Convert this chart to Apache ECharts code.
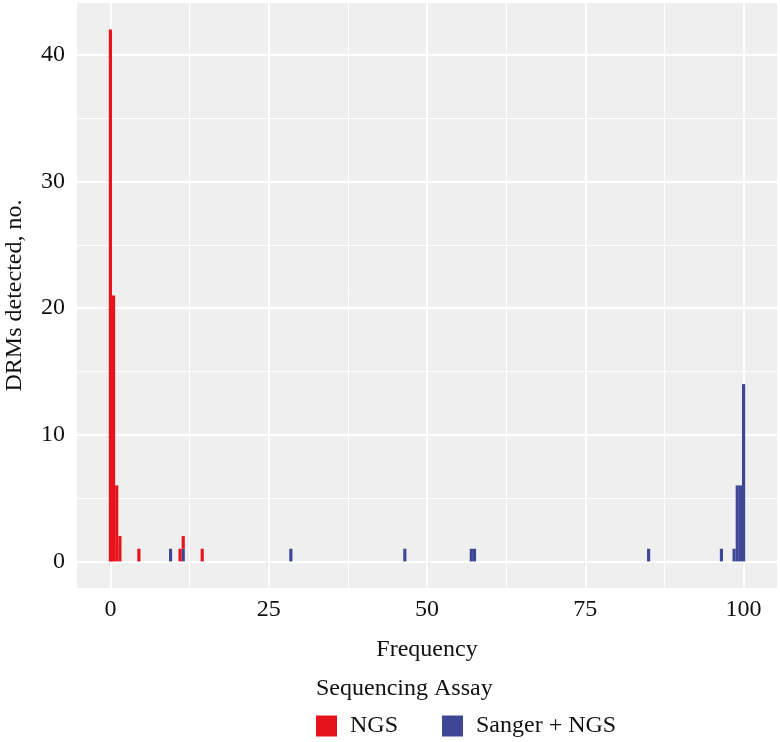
<!DOCTYPE html>
<html>
<head>
<meta charset="utf-8">
<script src="https://cdn.jsdelivr.net/npm/echarts@6/dist/echarts.min.js"></script>
<style>
html,body{margin:0;padding:0;background:#fff;}
#chart{width:780px;height:742px;}
</style>
</head>
<body>
<div id="chart"></div>
<script>
// ---- data (histogram, bin width 0.5) ----
const ngsBins = [0, 0.5, 1, 1.5, 4.5, 11, 11.5, 14.5];
const ngsCounts = [42, 21, 6, 2, 1, 1, 1, 1];
const sangerBins = [9.5, 11.5, 28.5, 46.5, 57, 57.5, 85, 96.5, 98.5, 99, 99.5, 100];
const sangerCounts = [1, 1, 1, 1, 1, 1, 1, 1, 1, 6, 6, 14];
const xTicks = [0, 25, 50, 75, 100];
const xMinor = [12.5, 37.5, 62.5, 87.5];
const yTicks = [0, 10, 20, 30, 40];
const yMinor = [5, 15, 25, 35];
const seriesNames = ['NGS', 'Sanger + NGS'];
const binWidth = 0.5;

const FONT = 'Liberation Serif';
const TXT = '#111111';
const RED = '#E6121C';
const BLUE = '#3D4796';

// stacked: Sanger + NGS at the bottom, NGS on top
const sangerData = sangerBins.map((b, i) => [b, 0, sangerCounts[i]]);
const ngsData = ngsBins.map((b, i) => {
  const j = sangerBins.indexOf(b);
  const base = j >= 0 ? sangerCounts[j] : 0;
  return [b, base, base + ngsCounts[i]];
});

function renderBin(params, api) {
  const x = api.value(0), y0 = api.value(1), y1 = api.value(2);
  const p0 = api.coord([x - binWidth / 2, y0]);
  const p1 = api.coord([x + binWidth / 2, y1]);
  return {
    type: 'rect',
    shape: { x: p0[0], y: p1[1], width: p1[0] - p0[0], height: p0[1] - p1[1] },
    style: { fill: api.visual('color') }
  };
}

const gridLines = [];
xTicks.forEach(v => gridLines.push({ xAxis: v, lineStyle: { width: 2 } }));
xMinor.forEach(v => gridLines.push({ xAxis: v, lineStyle: { width: 1 } }));
yTicks.forEach(v => gridLines.push({ yAxis: v, lineStyle: { width: 2 } }));
yMinor.forEach(v => gridLines.push({ yAxis: v, lineStyle: { width: 1 } }));

const chart = echarts.init(document.getElementById('chart'), null, { renderer: 'canvas' });
chart.setOption({
  animation: false,
  backgroundColor: '#ffffff',
  title: {
    text: 'Sequencing Assay',
    left: 316, top: 677, padding: 0,
    textStyle: { fontFamily: FONT, fontSize: 24, fontWeight: 'normal', color: TXT }
  },
  legend: {
    data: seriesNames,
    left: 316, top: 714, padding: 0,
    icon: 'rect', itemWidth: 21, itemHeight: 21, itemGap: 44,
    textStyle: { fontFamily: FONT, fontSize: 24, color: TXT, padding: [0, 0, 0, 8] }
  },
  grid: {
    left: 77, right: 3, top: 3, bottom: 154,
    outerBoundsMode: 'none', containLabel: false,
    show: true, backgroundColor: '#EFEFEF', borderWidth: 0
  },
  xAxis: {
    type: 'value', min: -5.275, max: 105.275,
    name: 'Frequency', nameLocation: 'middle', nameGap: 50,
    nameTextStyle: { fontFamily: FONT, fontSize: 24, color: TXT },
    axisLine: { show: false },
    axisTick: { show: true, length: 4, customValues: xTicks, lineStyle: { color: '#333', width: 1.2 } },
    axisLabel: { customValues: xTicks, margin: 10, fontFamily: FONT, fontSize: 24, color: TXT },
    splitLine: { show: false }
  },
  yAxis: {
    type: 'value', min: -2.1, max: 44.1,
    name: 'DRMs detected, no.', nameLocation: 'middle', nameGap: 50,
    nameTextStyle: { fontFamily: FONT, fontSize: 24, color: TXT },
    axisLine: { show: false },
    axisTick: { show: true, length: 4, customValues: yTicks, lineStyle: { color: '#333', width: 1.2 } },
    axisLabel: { customValues: yTicks, margin: 12, fontFamily: FONT, fontSize: 24, color: TXT },
    splitLine: { show: false }
  },
  series: [
    {
      name: 'grid', type: 'line', data: [], z: 1, silent: true,
      markLine: {
        silent: true, symbol: 'none', animation: false,
        label: { show: false },
        lineStyle: { color: '#ffffff', type: 'solid' },
        emphasis: { disabled: true },
        data: gridLines
      }
    },
    {
      name: seriesNames[1], type: 'custom', z: 10,
      itemStyle: { color: BLUE },
      renderItem: renderBin,
      encode: { x: 0, y: [1, 2] },
      data: sangerData
    },
    {
      name: seriesNames[0], type: 'custom', z: 10,
      itemStyle: { color: RED },
      renderItem: renderBin,
      encode: { x: 0, y: [1, 2] },
      data: ngsData
    }
  ]
});
</script>
</body>
</html>
